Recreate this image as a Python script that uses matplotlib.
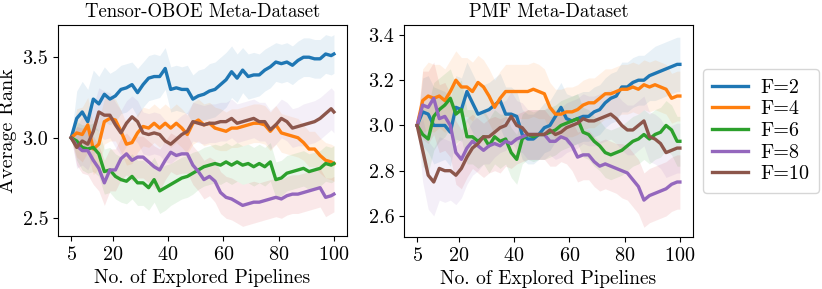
import numpy as np
import matplotlib
matplotlib.use("Agg")
import matplotlib.pyplot as plt

plt.rcParams['font.family'] = 'serif'
plt.rcParams['font.serif'] = ['cmr10']
plt.rcParams['mathtext.fontset'] = 'cm'
plt.rcParams['axes.formatter.use_mathtext'] = True

# explored pipelines (x grid)
pipelines = [5, 7, 9, 11, 13, 15, 17, 19, 21, 23, 25, 27, 29, 31, 33, 35, 37, 39, 41, 43,
             45, 47, 49, 51, 53, 55, 57, 59, 61, 63, 65, 67, 69, 71, 73, 75, 77, 79, 81, 83,
             85, 87, 89, 91, 93, 95, 97, 99, 100]

labels = ["F=2", "F=4", "F=6", "F=8", "F=10"]

# ---- Tensor-OBOE meta-dataset: mean rank ----
oboe_f2 = [3.00, 3.12, 3.16, 3.10, 3.24, 3.21, 3.27, 3.24, 3.26, 3.30, 3.31, 3.33, 3.28, 3.33, 3.37, 3.38, 3.38, 3.43, 3.30, 3.31,
           3.30, 3.30, 3.24, 3.26, 3.27, 3.29, 3.30, 3.33, 3.36, 3.41, 3.37, 3.42, 3.38, 3.39, 3.39, 3.42, 3.44, 3.47, 3.46, 3.47,
           3.45, 3.48, 3.50, 3.50, 3.49, 3.49, 3.52, 3.51, 3.52]
oboe_f4 = [3.00, 3.03, 3.02, 3.08, 2.93, 2.96, 3.10, 3.12, 3.11, 3.04, 2.96, 2.97, 3.03, 3.07, 3.06, 3.09, 3.06, 3.09, 3.06, 3.09,
           3.06, 3.02, 3.09, 3.11, 3.08, 3.09, 3.06, 3.05, 3.04, 3.06, 3.06, 3.07, 3.08, 3.09, 3.09, 3.08, 3.04, 3.08, 3.03, 3.02,
           3.01, 3.00, 2.97, 2.93, 2.93, 2.89, 2.86, 2.85, 2.84]
oboe_f6 = [3.00, 2.98, 2.94, 2.93, 2.94, 2.90, 2.79, 2.80, 2.76, 2.74, 2.73, 2.76, 2.72, 2.72, 2.69, 2.74, 2.67, 2.69, 2.71, 2.73,
           2.75, 2.76, 2.78, 2.80, 2.82, 2.83, 2.84, 2.83, 2.85, 2.83, 2.85, 2.83, 2.84, 2.82, 2.84, 2.82, 2.85, 2.74, 2.75, 2.78,
           2.79, 2.80, 2.81, 2.79, 2.80, 2.81, 2.84, 2.83, 2.84]
oboe_f8 = [3.00, 2.95, 2.92, 2.92, 2.86, 2.81, 2.72, 2.80, 2.80, 2.87, 2.90, 2.86, 2.88, 2.88, 2.85, 2.82, 2.80, 2.86, 2.91, 2.89,
           2.90, 2.90, 2.83, 2.79, 2.74, 2.76, 2.73, 2.66, 2.63, 2.62, 2.60, 2.58, 2.59, 2.60, 2.60, 2.61, 2.62, 2.63, 2.62, 2.64,
           2.65, 2.65, 2.66, 2.67, 2.68, 2.69, 2.63, 2.64, 2.65]
oboe_f10 = [3.00, 2.94, 2.98, 2.96, 3.04, 3.16, 3.14, 3.14, 3.08, 3.03, 3.09, 3.13, 3.10, 3.03, 3.02, 3.03, 3.02, 2.98, 2.96, 2.99,
            3.02, 3.04, 3.10, 3.09, 3.08, 3.09, 3.09, 3.10, 3.10, 3.12, 3.09, 3.10, 3.11, 3.12, 3.10, 3.10, 3.05, 3.08, 3.12, 3.10,
            3.06, 3.07, 3.08, 3.09, 3.10, 3.12, 3.15, 3.18, 3.16]

# ---- Tensor-OBOE: band half-widths ----
oboe_f2_err = [0.00, 0.17, 0.19, 0.20, 0.18, 0.17, 0.17, 0.16, 0.16, 0.15, 0.15, 0.14, 0.15, 0.14, 0.14, 0.14, 0.13, 0.13, 0.14, 0.14,
               0.14, 0.15, 0.15, 0.16, 0.16, 0.17, 0.17, 0.17, 0.17, 0.16, 0.15, 0.14, 0.14, 0.14, 0.13, 0.13, 0.13, 0.12, 0.12, 0.12,
               0.12, 0.12, 0.12, 0.12, 0.12, 0.12, 0.12, 0.12, 0.12]
oboe_f4_err = [0.00, 0.15, 0.17, 0.17, 0.16, 0.15, 0.14, 0.14, 0.13, 0.13, 0.13, 0.13, 0.12, 0.12, 0.12, 0.12, 0.12, 0.12, 0.12, 0.12,
               0.12, 0.12, 0.13, 0.13, 0.13, 0.13, 0.13, 0.13, 0.12, 0.12, 0.12, 0.12, 0.12, 0.12, 0.12, 0.12, 0.12, 0.12, 0.12, 0.12,
               0.12, 0.12, 0.11, 0.11, 0.11, 0.11, 0.11, 0.11, 0.11]
oboe_f6_err = [0.00, 0.12, 0.14, 0.15, 0.15, 0.14, 0.14, 0.14, 0.14, 0.14, 0.14, 0.14, 0.14, 0.14, 0.14, 0.14, 0.14, 0.14, 0.13, 0.13,
               0.13, 0.13, 0.13, 0.12, 0.12, 0.12, 0.12, 0.12, 0.12, 0.12, 0.12, 0.12, 0.12, 0.12, 0.12, 0.12, 0.12, 0.11, 0.11, 0.11,
               0.11, 0.11, 0.11, 0.11, 0.11, 0.11, 0.11, 0.11, 0.11]
oboe_f8_err = [0.00, 0.12, 0.14, 0.15, 0.15, 0.14, 0.14, 0.13, 0.13, 0.13, 0.13, 0.13, 0.13, 0.13, 0.13, 0.13, 0.13, 0.12, 0.12, 0.12,
               0.12, 0.12, 0.12, 0.12, 0.12, 0.12, 0.13, 0.13, 0.13, 0.13, 0.13, 0.13, 0.13, 0.13, 0.12, 0.12, 0.12, 0.12, 0.12, 0.12,
               0.12, 0.12, 0.12, 0.12, 0.12, 0.12, 0.12, 0.11, 0.11]
oboe_f10_err = [0.00, 0.13, 0.15, 0.16, 0.16, 0.15, 0.15, 0.14, 0.14, 0.14, 0.14, 0.13, 0.13, 0.13, 0.13, 0.13, 0.13, 0.13, 0.12, 0.12,
                0.12, 0.12, 0.12, 0.12, 0.12, 0.12, 0.12, 0.12, 0.12, 0.12, 0.12, 0.12, 0.12, 0.12, 0.12, 0.12, 0.12, 0.12, 0.12, 0.12,
                0.12, 0.12, 0.13, 0.13, 0.13, 0.13, 0.13, 0.13, 0.13]

# ---- PMF meta-dataset: mean rank ----
pmf_f2 = [3.00, 3.06, 3.05, 3.00, 3.00, 3.00, 2.97, 3.08, 3.07, 3.15, 3.10, 3.05, 3.06, 3.07, 3.09, 3.11, 3.05, 3.05, 3.04, 2.96,
          2.94, 2.94, 2.96, 2.99, 3.00, 3.04, 3.08, 3.03, 3.02, 3.03, 3.04, 3.04, 3.06, 3.07, 3.10, 3.12, 3.13, 3.17, 3.17, 3.19,
          3.20, 3.20, 3.22, 3.23, 3.24, 3.25, 3.26, 3.27, 3.27]
pmf_f4 = [3.00, 3.11, 3.13, 3.12, 3.13, 3.11, 3.15, 3.20, 3.17, 3.17, 3.15, 3.19, 3.17, 3.13, 3.08, 3.12, 3.15, 3.15, 3.15, 3.15,
          3.15, 3.16, 3.15, 3.14, 3.08, 3.05, 3.05, 3.06, 3.06, 3.07, 3.09, 3.10, 3.10, 3.12, 3.14, 3.14, 3.15, 3.16, 3.16, 3.17,
          3.16, 3.18, 3.17, 3.18, 3.17, 3.16, 3.12, 3.13, 3.13]
pmf_f6 = [3.00, 2.96, 2.94, 3.04, 3.07, 3.09, 3.12, 3.05, 3.07, 2.95, 2.95, 2.93, 2.95, 2.91, 2.95, 2.93, 2.94, 2.88, 2.85, 2.94,
          2.96, 2.95, 2.96, 2.96, 2.97, 2.98, 3.00, 3.01, 3.02, 3.03, 2.97, 2.96, 2.93, 2.91, 2.88, 2.87, 2.88, 2.89, 2.91, 2.93,
          2.94, 2.96, 2.94, 2.96, 2.97, 3.00, 2.98, 2.93, 2.93]
pmf_f8 = [3.00, 3.09, 3.08, 3.12, 3.03, 3.04, 3.00, 2.88, 2.85, 2.90, 2.93, 2.91, 2.89, 2.91, 2.92, 2.91, 2.93, 2.92, 2.94, 2.95,
          2.96, 2.96, 2.96, 2.96, 2.93, 2.93, 2.95, 2.94, 2.91, 2.86, 2.87, 2.87, 2.84, 2.82, 2.83, 2.82, 2.81, 2.80, 2.79, 2.76,
          2.73, 2.67, 2.69, 2.70, 2.71, 2.72, 2.74, 2.75, 2.75]
pmf_f10 = [3.00, 2.89, 2.78, 2.75, 2.81, 2.80, 2.80, 2.78, 2.81, 2.86, 2.90, 2.92, 2.95, 2.95, 2.97, 2.99, 3.00, 3.04, 3.00, 2.99,
           2.96, 2.96, 2.96, 2.96, 2.98, 2.96, 2.97, 2.99, 3.00, 3.01, 3.03, 3.02, 3.02, 3.03, 3.04, 3.05, 3.03, 3.00, 2.98, 2.98,
           3.00, 3.02, 2.95, 2.94, 2.92, 2.88, 2.89, 2.90, 2.90]

# ---- PMF: band half-widths ----
pmf_f2_err = [0.00, 0.15, 0.17, 0.17, 0.16, 0.15, 0.15, 0.14, 0.14, 0.13, 0.13, 0.13, 0.12, 0.12, 0.12, 0.12, 0.12, 0.12, 0.11, 0.11,
              0.11, 0.11, 0.11, 0.11, 0.11, 0.11, 0.11, 0.11, 0.11, 0.11, 0.11, 0.11, 0.11, 0.11, 0.11, 0.11, 0.11, 0.11, 0.11, 0.11,
              0.11, 0.11, 0.11, 0.12, 0.12, 0.12, 0.12, 0.12, 0.12]
pmf_f4_err = [0.00, 0.14, 0.15, 0.15, 0.14, 0.14, 0.14, 0.13, 0.13, 0.13, 0.13, 0.12, 0.12, 0.12, 0.12, 0.12, 0.12, 0.12, 0.12, 0.12,
              0.12, 0.12, 0.12, 0.11, 0.11, 0.11, 0.11, 0.11, 0.11, 0.11, 0.11, 0.11, 0.11, 0.11, 0.11, 0.11, 0.11, 0.11, 0.11, 0.11,
              0.11, 0.11, 0.11, 0.11, 0.11, 0.11, 0.11, 0.11, 0.11]
pmf_f6_err = [0.00, 0.14, 0.15, 0.15, 0.14, 0.14, 0.13, 0.13, 0.13, 0.12, 0.12, 0.12, 0.12, 0.12, 0.12, 0.12, 0.11, 0.11, 0.11, 0.11,
              0.11, 0.11, 0.11, 0.11, 0.11, 0.11, 0.11, 0.11, 0.11, 0.11, 0.11, 0.11, 0.11, 0.11, 0.11, 0.11, 0.11, 0.11, 0.11, 0.11,
              0.11, 0.11, 0.11, 0.11, 0.11, 0.11, 0.11, 0.11, 0.11]
pmf_f8_err = [0.00, 0.15, 0.16, 0.16, 0.15, 0.15, 0.14, 0.14, 0.13, 0.13, 0.12, 0.12, 0.12, 0.12, 0.12, 0.12, 0.11, 0.11, 0.11, 0.11,
              0.11, 0.11, 0.11, 0.11, 0.11, 0.11, 0.11, 0.11, 0.11, 0.11, 0.11, 0.11, 0.11, 0.11, 0.11, 0.11, 0.11, 0.12, 0.12, 0.12,
              0.12, 0.12, 0.12, 0.12, 0.12, 0.12, 0.12, 0.12, 0.12]
pmf_f10_err = [0.00, 0.14, 0.15, 0.15, 0.14, 0.14, 0.13, 0.13, 0.13, 0.12, 0.12, 0.12, 0.12, 0.12, 0.11, 0.11, 0.11, 0.11, 0.11, 0.11,
               0.11, 0.11, 0.11, 0.11, 0.11, 0.11, 0.11, 0.11, 0.11, 0.11, 0.11, 0.11, 0.11, 0.11, 0.11, 0.11, 0.11, 0.11, 0.11, 0.11,
               0.11, 0.11, 0.11, 0.11, 0.11, 0.11, 0.11, 0.11, 0.11]

oboe_means = [oboe_f2, oboe_f4, oboe_f6, oboe_f8, oboe_f10]
oboe_errs = [oboe_f2_err, oboe_f4_err, oboe_f6_err, oboe_f8_err, oboe_f10_err]
pmf_means = [pmf_f2, pmf_f4, pmf_f6, pmf_f8, pmf_f10]
pmf_errs = [pmf_f2_err, pmf_f4_err, pmf_f6_err, pmf_f8_err, pmf_f10_err]

# lines use C0,C1,C2,C4,C5; the shaded bands follow the plain cycle C0..C4
line_colors = ["C0", "C1", "C2", "C4", "C5"]
band_colors = ["C0", "C1", "C2", "C3", "C4"]

fig = plt.figure(figsize=(8.22, 2.89), dpi=100)
ax1 = fig.add_axes([0.0706, 0.1834, 0.3516, 0.7301])
ax2 = fig.add_axes([0.4915, 0.1800, 0.3516, 0.7335])

x = np.array(pipelines)


def draw(ax, means, errs, title):
    for m, e, lc, bc, lab in zip(means, errs, line_colors, band_colors, labels):
        m = np.array(m)
        e = np.array(e)
        ax.plot(x, m, color=lc, linewidth=2.4, label=lab)
        ax.fill_between(x, m - e, m + e, color=bc, alpha=0.1, linewidth=0)
    ax.set_title(title, fontsize=13.5)
    ax.set_xlabel("No. of Explored Pipelines", fontsize=14)
    ax.set_xticks([5, 20, 40, 60, 80, 100])
    ax.set_xlim(0.25, 104.75)
    ax.tick_params(labelsize=14.5)


draw(ax1, oboe_means, oboe_errs, "Tensor-OBOE Meta-Dataset")
ax1.set_ylabel("Average Rank", fontsize=14.5)
ax1.set_ylim(2.39, 3.70)
ax1.set_yticks([2.5, 3.0, 3.5])
ax1.set_yticklabels(["2.5", "3.0", "3.5"])

draw(ax2, pmf_means, pmf_errs, "PMF Meta-Dataset")
ax2.set_ylim(2.507, 3.444)
ax2.set_yticks([2.6, 2.8, 3.0, 3.2, 3.4])
ax2.set_yticklabels(["2.6", "2.8", "3.0", "3.2", "3.4"])
ax2.legend(loc="center left", bbox_to_anchor=(1.0, 0.5), fontsize=14.5,
           handlelength=1.8, handletextpad=0.6, labelspacing=0.18, borderpad=0.45)

fig.savefig("out.png", dpi=100)
